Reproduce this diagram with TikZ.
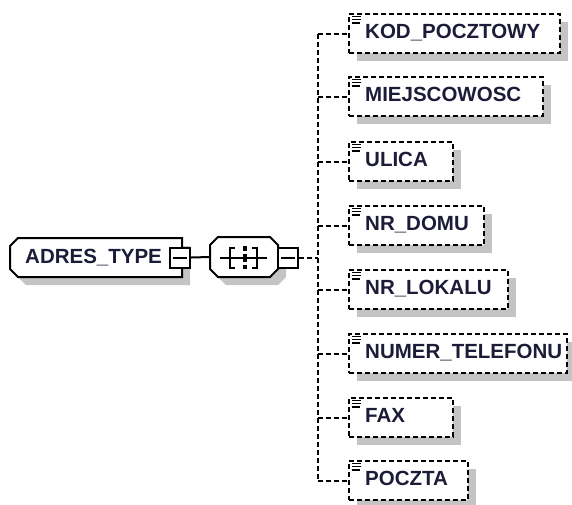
\documentclass[tikz,border=0pt]{standalone}
\usepackage{fontspec}
\setmainfont{Liberation Sans}
\usetikzlibrary{shadows}
\definecolor{shadowgray}{HTML}{C4C4C4}
\definecolor{txt}{HTML}{1C1C38}
\tikzset{
  shad/.style={general shadow={fill=shadowgray, shadow xshift=8pt, shadow yshift=-8pt}},
  elem/.style={draw=black, line width=2pt, dash pattern=on 5pt off 3pt, fill=white, shad,
    rectangle, minimum height=39pt, inner sep=0pt, anchor=north west},
  lbl/.style={font=\bfseries\fontsize{20.5}{24}\selectfont, text=txt, inner sep=0pt, anchor=base west},
  dl/.style={line width=2pt, dash pattern=on 5pt off 3pt},
  solid line/.style={line width=2pt},
  shape frame/.style={draw=black, line width=2pt, fill=white, line join=miter},
  minusbox/.style={draw=black, line width=2pt, fill=white, rectangle, minimum width=20pt, minimum height=20pt, inner sep=0pt},
  icon/.style={line width=1.4pt},
  anchorbox/.style={rectangle, inner sep=0pt}
}
\newcommand{\elembox}[4]{% name, top, right, text
  \pgfmathsetmacro{\ew}{#3-348}
  \node[elem, minimum width=\ew pt] (#1) at (348,#2) {};
  \node[lbl] (#1t) at (365,#2+19.5+6.3) {#4};
  \draw[icon] (352,#2+3.3) -- (361,#2+3.3);
  \draw[icon] (352,#2+6.7) -- (361,#2+6.7);
  \draw[icon] (352,#2+10) -- (360,#2+10);
}
\newcommand{\rootpath}{(18,238) -- (182,238) -- (182,277) -- (18,277) -- (10,269) -- (10,246) -- cycle}
\newcommand{\seqpath}{(218,237) -- (270,237) -- (278,245) -- (278,269) -- (270,277) -- (218,277) -- (210,269) -- (210,245) -- cycle}
\begin{document}
\begin{tikzpicture}[x=1pt,y=-1pt]
\useasboundingbox (0,0) rectangle (572,504);

% shadows
\begin{scope}[shift={(8,8)}]
  \fill[shadowgray] \rootpath;
  \fill[shadowgray] \seqpath;
\end{scope}

% root type
\draw[shape frame] \rootpath;
\node[anchorbox, minimum width=172pt, minimum height=39pt] (root) at (96,257.5) {};
\node[lbl] (roott) at (25,257.5+6.3) {ADRES\_TYPE};
\node[minusbox] (m1) at (180,257.5) {};
\draw[solid line] ([xshift=4pt]m1.west) -- ([xshift=-4pt]m1.east);

% sequence compositor
\draw[shape frame] \seqpath;
\node[anchorbox, minimum width=68pt, minimum height=40pt] (seq) at (244,257) {};
\draw[solid line] (m1.east) -- (seq.west);
\draw[icon] (220,258) -- (267,258);
\draw[icon] (235,248) -- (230,248) -- (230,268) -- (235,268);
\draw[icon] (252,248) -- (257,248) -- (257,268) -- (252,268);
\fill (243,246) rectangle (247,251);
\fill (243,254) rectangle (247,262);
\fill (243,265) rectangle (247,269);
\node[minusbox] (m2) at (288,258) {};
\draw[solid line] ([xshift=4pt]m2.west) -- ([xshift=-4pt]m2.east);

\coordinate (j) at (318,258);
\draw[dl] (m2.east) -- (j);

% elements
\elembox{kod}{13}{559}{KOD\_POCZTOWY}
\elembox{miej}{76}{542}{MIEJSCOWOSC}
\elembox{ulica}{141}{452}{ULICA}
\elembox{domu}{205}{483}{NR\_DOMU}
\elembox{lok}{269}{507}{NR\_LOKALU}
\elembox{tel}{333}{566}{NUMER\_TELEFONU}
\elembox{fax}{397}{452}{FAX}
\elembox{poczta}{460}{467}{POCZTA}

\draw[dl] (kod.west -| j) -- (poczta.west -| j);
\foreach \n in {kod,miej,ulica,domu,lok,tel,fax,poczta}{
  \draw[dl] (\n.west -| j) -- (\n.west);
}
\end{tikzpicture}
\end{document}
